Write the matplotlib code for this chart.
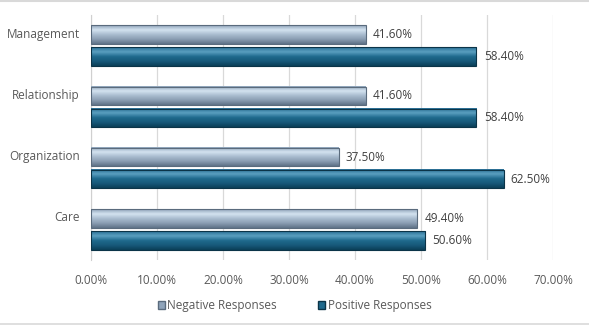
import numpy as np
import matplotlib
matplotlib.use("Agg")
import matplotlib.pyplot as plt
from matplotlib.colors import LinearSegmentedColormap
from matplotlib.patches import Patch, Rectangle
from matplotlib.lines import Line2D

categories = ["Management", "Relationship", "Organization", "Care"]
negative = [41.6, 41.6, 37.5, 49.4]
positive = [58.4, 58.4, 62.5, 50.6]
xticks = [0, 10, 20, 30, 40, 50, 60, 70]
series_names = ["Negative Responses", "Positive Responses"]

plt.rcParams['font.family'] = ['Open Sans', 'DejaVu Sans']

fig = plt.figure(figsize=(5.89, 3.27), dpi=100)
ax = fig.add_axes([0.1545, 0.205, 0.7845, 0.749])

neg_cmap = LinearSegmentedColormap.from_list("neg", ["#5f7388", "#8a9db2", "#a9bccf", "#d4e3f0", "#8fa4ba"])
pos_cmap = LinearSegmentedColormap.from_list("pos", ["#0b3f58", "#17597a", "#1f6a8d", "#5a9fc0", "#2a7096"])
grad = np.linspace(0, 1, 64).reshape(-1, 1)

n = len(categories)
ypos = np.arange(n)[::-1]
h = 0.30
off = 0.18

def draw_bar(x, yc, cmap, edge):
    y0, y1 = yc - h / 2, yc + h / 2
    ax.imshow(grad, extent=(0, x, y0, y1), cmap=cmap, aspect='auto',
              origin='lower', zorder=3, interpolation='bilinear')
    ax.add_patch(Rectangle((0, y0), x, h, fill=False, edgecolor=edge, lw=0.8, zorder=4))

for i in range(n):
    yc = ypos[i]
    draw_bar(negative[i], yc + off, neg_cmap, "#5a6b7d")
    draw_bar(positive[i], yc - off, pos_cmap, "#0b3448")
    ax.text(negative[i] + 1.1, yc + off, f"{negative[i]:.2f}%", va='center', ha='left',
            fontsize=8.5, color='#404040')
    ax.text(positive[i] + 1.1, yc - off, f"{positive[i]:.2f}%", va='center', ha='left',
            fontsize=8.5, color='#404040')

ax.set_xlim(0, 70)
ax.set_ylim(-0.5, n - 0.5)
ax.set_xticks(xticks)
ax.set_xticklabels([f"{v:.2f}%" for v in xticks], fontsize=8.5, color='#595959')
ax.set_yticks(ypos + off + 0.03)
ax.set_yticklabels(categories, fontsize=8.5, color='#595959')
ax.tick_params(axis='y', length=0, pad=8)
ax.tick_params(axis='x', length=0, pad=10)
ax.grid(axis='x', color='#d9d9d9', lw=0.9, zorder=0)
ax.set_axisbelow(True)
for s in ['top', 'right', 'bottom']:
    ax.spines[s].set_visible(False)
ax.spines['left'].set_color('#d0d0d0')

handles = [Patch(facecolor="#8fa4ba", edgecolor="#5a6b7d"),
           Patch(facecolor="#1f6a8d", edgecolor="#0b3448")]
leg = fig.legend(handles, series_names, loc='center', bbox_to_anchor=(0.5, 0.065), ncol=2,
                 frameon=False, fontsize=8.5, handlelength=0.6, handleheight=0.6,
                 handletextpad=0.2, columnspacing=3.5, labelcolor='#595959')

fig.add_artist(Line2D([0, 1], [0.998, 0.998], transform=fig.transFigure, color='#d9d9d9', lw=1.5))
fig.add_artist(Line2D([0, 1], [0.009, 0.009], transform=fig.transFigure, color='#d9d9d9', lw=1.2))

fig.savefig("out.png", dpi=100)
